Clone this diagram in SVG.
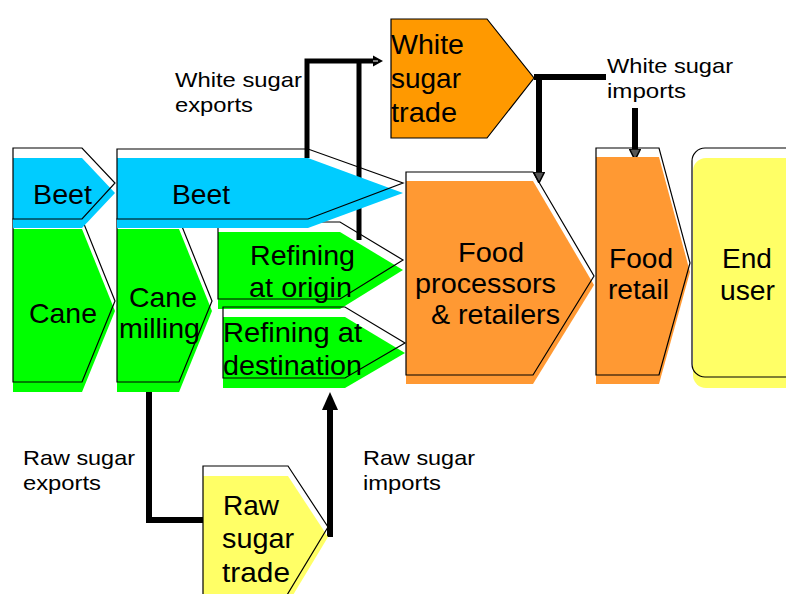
<svg xmlns="http://www.w3.org/2000/svg" width="786" height="594" viewBox="0 0 786 594">
<style>
.ol{fill:none;stroke:#000;stroke-width:1.2}
.beet{fill:#00CCFF}
.green{fill:#00FF00}
.orange{fill:#FF9933}
.yellow{fill:#FFFF66}
.t{font-family:"Liberation Sans",Arial,sans-serif;font-size:27.5px;fill:#000}
.s{font-family:"Liberation Sans",Arial,sans-serif;font-size:21px;fill:#000}
.c{fill:none;stroke:#000;stroke-width:6;stroke-linejoin:miter}
</style>
<defs>
<marker id="ahBig" markerUnits="userSpaceOnUse" markerWidth="18" markerHeight="18" viewBox="0 0 18 18" refX="0" refY="9" orient="auto"><path d="M0,1 L18,9 L0,17 Z" fill="#000"/></marker>
<marker id="ahMid" markerUnits="userSpaceOnUse" markerWidth="11" markerHeight="12" viewBox="0 0 11 12" refX="0" refY="6" orient="auto"><path d="M0,0.5 L11,6 L0,11.5 Z" fill="#555" stroke="#000" stroke-width="1.5"/></marker>
<marker id="ahSmall" markerUnits="userSpaceOnUse" markerWidth="10" markerHeight="12" viewBox="0 0 10 12" refX="0" refY="6" orient="auto"><path d="M0,0.5 L10,6 L0,11.5 Z" fill="#000"/><path d="M0,6 H5" stroke="#fff" stroke-width="1"/></marker>
</defs>

<g id="connectors">
<path class="c" style="stroke-width:5" d="M307,158 V61 H373" marker-end="url(#ahSmall)"/>
<path class="c" style="stroke-width:5" d="M359,240 V61"/>
<path class="c" d="M534,77 H606"/>
<path class="c" d="M539,77 V172" marker-end="url(#ahMid)"/>
<path class="c" d="M635,108 V149" marker-end="url(#ahMid)"/>
<path class="c" d="M149,392 V520 H203"/>
<path class="c" d="M330,537 V410" marker-end="url(#ahBig)"/>
</g>

<g id="cane">
<polygon class="green" points="13,229 82,229 115,311 82,392 13,392"/>
<polygon class="ol" points="13,219 82,219 115,301 82,382 13,382"/>
<text class="t" x="29" y="323" textLength="68" lengthAdjust="spacingAndGlyphs">Cane</text>
</g>

<g id="cane-milling">
<polygon class="green" points="117,229 179,229 212,311 179,392 117,392"/>
<polygon class="ol" points="117,219 179,219 212,301 179,382 117,382"/>
<text class="t" x="129" y="307" textLength="68" lengthAdjust="spacingAndGlyphs">Cane</text>
<text class="t" x="119" y="338" textLength="81" lengthAdjust="spacingAndGlyphs">milling</text>
</g>

<g id="refining-origin">
<polygon class="green" points="218,232 340,232 403,270 340,309 218,309"/>
<polygon class="ol" points="218,222 340,222 403,260 340,299 218,299"/>
<text class="t" x="250" y="265" textLength="105" lengthAdjust="spacingAndGlyphs">Refining</text>
<text class="t" x="249" y="297" textLength="103" lengthAdjust="spacingAndGlyphs">at origin</text>
</g>

<g id="refining-destination">
<polygon class="green" points="223,317 345,317 405,353 345,388 223,388"/>
<polygon class="ol" points="223,307 345,307 405,343 345,378 223,378"/>
<text class="t" x="223" y="342" textLength="139" lengthAdjust="spacingAndGlyphs">Refining at</text>
<text class="t" x="223" y="375" textLength="139" lengthAdjust="spacingAndGlyphs">destination</text>
</g>

<g id="beet-1">
<polygon class="beet" points="13,158 82,158 115,193 82,228 13,228"/>
<polygon class="ol" points="13,148 82,148 115,183 82,219 13,219"/>
<text class="t" x="33" y="204" textLength="59" lengthAdjust="spacingAndGlyphs">Beet</text>
</g>

<g id="beet-2">
<polygon class="beet" points="117,158 308,158 403,193 308,228 117,228"/>
<polygon class="ol" points="117,149 308,149 403,183 308,219 117,219"/>
<text class="t" x="172" y="204" textLength="58" lengthAdjust="spacingAndGlyphs">Beet</text>
</g>

<g id="food-processors">
<polygon class="orange" points="406,181 533,181 594,285 533,384 406,384"/>
<polygon class="ol" points="406,172 533,172 594,276 533,375 406,375"/>
<text class="t" x="458" y="262" textLength="66" lengthAdjust="spacingAndGlyphs">Food</text>
<text class="t" x="415" y="293" textLength="141" lengthAdjust="spacingAndGlyphs">processors</text>
<text class="t" x="431" y="324" textLength="129" lengthAdjust="spacingAndGlyphs">&amp; retailers</text>
</g>

<g id="food-retail">
<polygon class="orange" points="596,157 659,157 690,272 659,384 596,384"/>
<polygon class="ol" points="596,148 659,148 690,263 659,375 596,375"/>
<text class="t" x="609" y="268" textLength="64" lengthAdjust="spacingAndGlyphs">Food</text>
<text class="t" x="608" y="299" textLength="61" lengthAdjust="spacingAndGlyphs">retail</text>
</g>

<g id="end-user">
<rect class="yellow" x="693" y="158" width="130" height="230" rx="13"/>
<rect class="ol" x="692" y="148" width="130" height="229" rx="13"/>
<text class="t" x="722" y="268" textLength="50" lengthAdjust="spacingAndGlyphs">End</text>
<text class="t" x="720" y="300" textLength="55" lengthAdjust="spacingAndGlyphs">user</text>
</g>

<g id="white-sugar-trade">
<polygon points="391,19 487,19 534,78 487,138 391,138" fill="#FF9900" stroke="#000" stroke-width="1.2"/>
<text class="t" x="391" y="54" textLength="73" lengthAdjust="spacingAndGlyphs">White</text>
<text class="t" x="391" y="88" textLength="70" lengthAdjust="spacingAndGlyphs">sugar</text>
<text class="t" x="391" y="122" textLength="66" lengthAdjust="spacingAndGlyphs">trade</text>
</g>

<g id="raw-sugar-trade">
<polygon class="yellow" points="203,476 288,476 328,537 284,610 203,610"/>
<polygon class="ol" points="203,466 288,466 328,527 284,600 203,600"/>
<text class="t" x="223" y="515" textLength="56" lengthAdjust="spacingAndGlyphs">Raw</text>
<text class="t" x="222" y="548" textLength="72" lengthAdjust="spacingAndGlyphs">sugar</text>
<text class="t" x="222" y="582" textLength="68" lengthAdjust="spacingAndGlyphs">trade</text>
</g>

<g id="labels">
<text class="s" x="175" y="87" textLength="127" lengthAdjust="spacingAndGlyphs">White sugar</text>
<text class="s" x="175" y="112" textLength="78" lengthAdjust="spacingAndGlyphs">exports</text>
<text class="s" x="607" y="73" textLength="126" lengthAdjust="spacingAndGlyphs">White sugar</text>
<text class="s" x="607" y="98" textLength="79" lengthAdjust="spacingAndGlyphs">imports</text>
<text class="s" x="23" y="465" textLength="112" lengthAdjust="spacingAndGlyphs">Raw sugar</text>
<text class="s" x="23" y="490" textLength="78" lengthAdjust="spacingAndGlyphs">exports</text>
<text class="s" x="363" y="465" textLength="112" lengthAdjust="spacingAndGlyphs">Raw sugar</text>
<text class="s" x="363" y="490" textLength="78" lengthAdjust="spacingAndGlyphs">imports</text>
</g>
</svg>
